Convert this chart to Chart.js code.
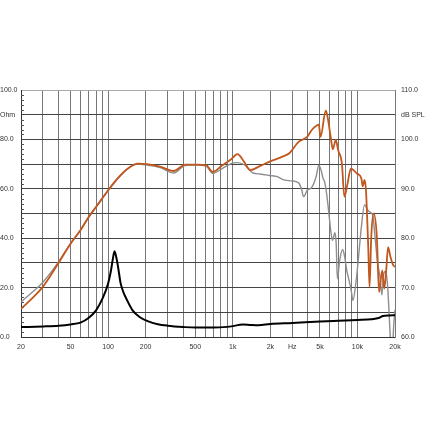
<!DOCTYPE html>
<html>
<head>
<meta charset="utf-8">
<script src="https://cdn.jsdelivr.net/npm/chart.js@4"></script>
<style>
html,body{margin:0;padding:0;background:#fff;}
#wrap{width:432px;height:432px;}
</style>
</head>
<body>
<div id="wrap"><canvas id="c" width="432" height="432"></canvas></div>
<script>
// ---- data ----
const freqTicks = [20,30,40,50,60,70,80,90,100,200,300,400,500,600,700,800,900,1000,2000,3000,4000,5000,6000,7000,8000,9000,10000,20000];
const freqLabels = {20:'20',50:'50',100:'100',200:'200',500:'500',1000:'1k',2000:'2k',3000:'Hz',5000:'5k',10000:'10k',20000:'20k'};
const ohmLabels = {100:'100.0',90:'Ohm',80:'80.0',60:'60.0',40:'40.0',20:'20.0',0:'0.0'};
const splLabels = {110:'110.0',105:'dB SPL',100:'100.0',90:'90.0',80:'80.0',70:'70.0',60:'60.0'};

const onAxisFreq = [20,25,30,40,50,60,70,80,100,120,146,172,205,261,336,415,517,610,690,810,970,1090,1230,1380,1650,1970,2500,2840,3370,3950,4300,4780,4900,5050,5570,5750,6100,6340,6700,7000,7500,7850,8330,8850,9900,10750,11000,11400,11700,12200,12500,12900,13500,14300,14900,15800,16400,17000,17600,18400,19400,20000];
const onAxisSPL  = [65.7,68.0,70.2,75.0,78.9,81.6,84.3,86.3,89.7,92.2,94.2,95.1,95.0,94.5,93.6,94.9,94.9,94.8,93.4,94.6,96.0,97.0,95.5,93.8,94.6,95.5,96.5,97.2,99.5,100.5,101.9,102.9,103.0,100.5,105.8,104.6,100.5,98.0,99.9,97.8,95.1,88.4,91.1,94.1,93.1,92.1,90.5,91.8,89.7,78.2,70.1,80.3,85.0,80.3,69.1,73.5,69.8,73.5,78.2,76.2,74.5,74.2];

const offAxisFreq = [20,25,30,40,50,60,70,80,100,120,146,172,205,261,336,415,517,610,690,810,970,1090,1250,1450,1650,1970,2300,2500,2950,3370,3550,3700,3950,4300,4650,4900,5100,5300,5450,5650,5900,6100,6300,6600,6750,6900,7200,7600,7900,8200,8500,8900,9200,9700,10200,10750,11400,12000,12700,13300,13800,14500,15100,15700,16200,16900,17500,18000,18500,19000,19500,20000];
const offAxisSPL  = [67.1,69.2,71.1,75.2,79.0,81.7,84.4,86.4,89.6,92.1,94.2,95.0,94.8,94.3,93.2,94.7,94.8,94.6,93.1,94.0,95.1,95.3,94.8,93.2,93.0,92.7,92.4,91.9,91.6,91.2,90.0,88.4,89.7,90.3,92.4,94.8,93.8,92.1,91.4,89.1,85.0,81.6,79.6,81.1,78.9,71.8,75.5,77.7,76.2,73.5,71.8,69.5,67.4,70.8,76.2,82.3,86.8,85.8,85.2,84.5,80.5,75.0,72.5,68.5,72.7,73.3,69.8,64.0,58.0,56.0,62.0,65.5];

const impFreq = [20,30,40,50,60,70,80,90,100,105,109,112.5,116,120,126,133,140,157,180,210,250,300,400,500,700,900,1000,1200,1400,1600,2000,3000,5000,7000,10000,13000,15000,16000,18000,20000];
const impOhm  = [4.0,4.3,4.6,5.1,5.8,7.8,10.8,15.5,21.7,26.5,31.5,34.7,32.5,28.5,21.7,18.0,15.5,10.8,8.0,6.3,5.2,4.6,4.05,3.8,3.8,4.1,4.4,5.1,4.9,4.8,5.3,5.7,6.3,6.6,6.9,7.2,7.8,8.5,8.7,8.8];

const toPts = (xs, ys) => xs.map((x, i) => ({x: x, y: ys[i]}));

const minorTicks = {
  id: 'minorTicks',
  beforeDatasetsDraw(chart) {
    const y = chart.scales.y, ctx = chart.ctx, left = chart.chartArea.left;
    ctx.save();
    ctx.strokeStyle = '#555';
    ctx.lineWidth = 1;
    for (let v = 0; v <= 100; v += 2) {
      if (v % 10 === 0) continue;
      const py = Math.round(y.getPixelForValue(v)) + 0.5;
      ctx.beginPath(); ctx.moveTo(left, py); ctx.lineTo(left + 3, py); ctx.stroke();
    }
    ctx.restore();
  }
};

const font = {family: "'Liberation Sans', Arial, sans-serif", size: 7};

new Chart(document.getElementById('c'), {
  type: 'line',
  data: {
    datasets: [
      {label: 'Impedance', data: toPts(impFreq, impOhm), yAxisID: 'y', borderColor: '#000', borderWidth: 2, pointRadius: 0, cubicInterpolationMode: 'monotone', fill: false},
      {label: 'On axis', data: toPts(onAxisFreq, onAxisSPL), yAxisID: 'y2', borderColor: '#c2571d', borderWidth: 1.8, pointRadius: 0, cubicInterpolationMode: 'monotone', fill: false},
      {label: 'Off axis', data: toPts(offAxisFreq, offAxisSPL), yAxisID: 'y2', borderColor: '#8e8e8e', borderWidth: 1.4, pointRadius: 0, cubicInterpolationMode: 'monotone', fill: false}
    ]
  },
  options: {
    responsive: false,
    animation: false,
    events: [],
    layout: {padding: {top: 90, bottom: 75, left: 0, right: 0}},
    plugins: {legend: {display: false}, tooltip: {enabled: false}},
    scales: {
      x: {
        type: 'logarithmic', min: 20, max: 20000,
        afterBuildTicks: s => { s.ticks = freqTicks.map(v => ({value: v})); },
        afterFit: s => { s.height = 20; },
        ticks: {autoSkip: false, maxRotation: 0, padding: 6, color: '#333', font: font,
          callback: v => freqLabels[v] || ''},
        grid: {color: '#777', lineWidth: 1, drawTicks: false},
        border: {color: '#333'}
      },
      y: {
        type: 'linear', position: 'left', min: 0, max: 100,
        afterBuildTicks: s => { const t = []; for (let v = 0; v <= 100; v += 2) t.push({value: v}); s.ticks = t; },
        afterFit: s => { s.width = 21; },
        ticks: {autoSkip: false, crossAlign: 'far', padding: 3, color: '#333', font: font,
          callback: v => (ohmLabels[v] !== undefined ? ohmLabels[v] : '')},
        grid: {drawTicks: false, lineWidth: 1,
          color: c => (c.tick && c.tick.value === 100) ? '#aaa' : ((c.tick && c.tick.value % 10 === 0) ? '#444' : 'rgba(0,0,0,0)')},
        border: {color: '#333'}
      },
      y2: {
        type: 'linear', position: 'right', min: 60, max: 110,
        afterBuildTicks: s => { const t = []; for (let v = 60; v <= 110; v += 5) t.push({value: v}); s.ticks = t; },
        afterFit: s => { s.width = 37; },
        ticks: {autoSkip: false, padding: 6, color: '#333', font: font,
          callback: v => splLabels[v] || ''},
        grid: {display: false, drawTicks: false},
        border: {color: '#777'}
      }
    }
  },
  plugins: [minorTicks]
});
</script>
</body>
</html>
